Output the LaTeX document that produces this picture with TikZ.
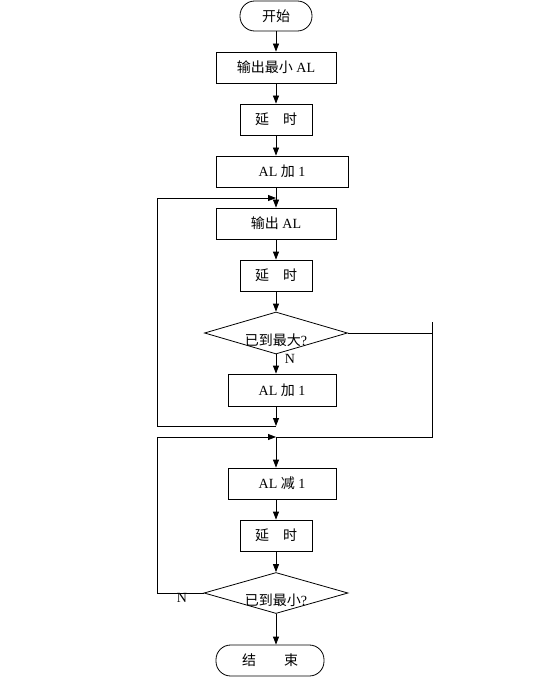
\documentclass[tikz,border=0pt]{standalone}
\usepackage{fontspec}
\setmainfont{Liberation Serif}
\newfontfamily\cjk{Noto Sans CJK SC}
\usetikzlibrary{shapes.geometric,arrows.meta,positioning}

\tikzset{
	procbox/.style={draw, rectangle, minimum height=23.25pt, inner sep=0pt},
	termbox/.style={draw, rectangle, rounded corners=11pt, minimum height=23.25pt, inner sep=0pt},
	decide/.style={draw, diamond, inner sep=0pt},
	arr/.style={-{Triangle[length=6pt,width=4.5pt]}},
}

\begin{document}
\begin{tikzpicture}[x=0.75pt, y=-0.75pt, line width=0.6pt, font=\fontsize{10.5pt}{12pt}\selectfont]
	\useasboundingbox (0,0) rectangle (552,677);
	
	\coordinate (lft) at (157,0);
	\coordinate (rgt) at (432,322);
	\coordinate (m1) at (276,198);
	\coordinate (j1) at (276,426);
	\coordinate (j2) at (276,437);
	
	\node[termbox, minimum width=54pt, minimum height=22.5pt] (start) at (276,16) {\cjk 开始};
	\node[procbox, minimum width=90pt] (b1) at (276,67.5) {{\cjk 输出最小} AL};
	\node[procbox, minimum width=54pt] (b2) at (276,119.5) {\cjk 延\hspace{1em}时};
	\node[procbox, minimum width=99pt] (b3) at (282,171.5) {AL {\cjk 加} 1};
	\node[procbox, minimum width=90pt] (b4) at (276,223.5) {{\cjk 输出} AL};
	\node[procbox, minimum width=54pt] (b5) at (276,275.5) {\cjk 延\hspace{1em}时};
	\node[decide, minimum width=107.25pt, minimum height=31.5pt,
		label={[yshift=-5.25pt]center:{\cjk 已到最大}?}] (d1) at (276,333) {};
	\node[procbox, minimum width=81pt, minimum height=24pt] (b6) at (282,390) {AL {\cjk 加} 1};
	\node[procbox, minimum width=81pt] (b7) at (282,483.5) {AL {\cjk 减} 1};
	\node[procbox, minimum width=54pt] (b8) at (276,535.5) {\cjk 延\hspace{1em}时};
	\node[decide, minimum width=108pt, minimum height=30.75pt,
		label={[yshift=-5.25pt]center:{\cjk 已到最小}?}] (d2) at (276,593) {};
	\node[termbox, minimum width=81pt] (end) at (270,660.5) {\cjk 结\hspace{2em}束};
	
	\node (n1) at (290,359) {N};
	\node (n2) at (182,598) {N};
	
	\draw[arr] (start) -- (b1);
	\draw[arr] (b1) -- (b2);
	\draw[arr] (b2) -- (b2 |- b3.north);
	\draw[arr] (b4 |- b3.south) -- (b4);
	\draw[arr] (b4) -- (b5);
	\draw[arr] (b5) -- (d1);
	\draw[arr] (d1) -- (d1 |- b6.north);
	\draw[arr] (d1 |- b6.south) -- (j1);
	\draw[arr] (j1) -- (j1 -| lft) |- (m1);
	\draw (d1.east) -- (d1.east -| rgt);
	\draw (rgt) -- (rgt |- j2) -- (j2);
	\draw[arr] (j2) -- (j2 |- b7.north);
	\draw[arr] (b8 |- b7.south) -- (b8);
	\draw[arr] (b8) -- (d2);
	\draw[arr] (d2) -- (d2 |- end.north);
	\draw[arr] (d2.west) -- (d2.west -| lft) |- (j2);
\end{tikzpicture}
\end{document}
